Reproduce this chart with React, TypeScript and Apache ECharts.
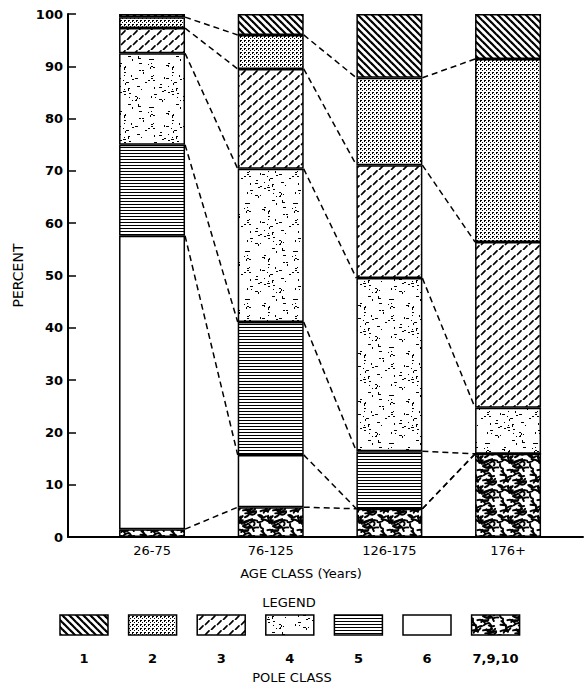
import React, { useEffect, useRef } from 'react';
import * as echarts from 'echarts';

// Age classes along the x axis
const categories = ['26-75', '76-125', '126-175', '176+'];
// Pole classes, in legend order (1 is drawn on top of each stack)
const poleClasses = ['1', '2', '3', '4', '5', '6', '7,9,10'];

// Percent of poles in each pole class, per age class
const class1 = [0.6, 4.0, 12.2, 8.6];
const class2 = [2.1, 6.5, 16.7, 35.0];
const class3 = [4.8, 19.1, 21.6, 31.7];
const class4 = [17.5, 29.3, 33.1, 8.8];
const class5 = [17.4, 25.4, 11.0, 0];
const class6 = [56.1, 10.0, 0, 0];
const class7910 = [1.5, 5.7, 5.4, 15.9];

const classValues = [class1, class2, class3, class4, class5, class6, class7910];

const FONT = 'DejaVu Sans';
const BAR_W = 66;

type Draw = (c: CanvasRenderingContext2D, w: number, h: number) => void;

// small integer hash, used to scatter texture specks
function hash(n: number) {
  let x = Math.imul(n ^ 0x5bd1e995, 0x27d4eb2d);
  x ^= x >>> 15;
  x = Math.imul(x, 0x165667b1);
  x ^= x >>> 13;
  return (x >>> 0) / 4294967296;
}

function makeTile(w: number, h: number, draw: Draw) {
  const cv = document.createElement('canvas');
  cv.width = w;
  cv.height = h;
  const c = cv.getContext('2d') as CanvasRenderingContext2D;
  c.fillStyle = '#fff';
  c.fillRect(0, 0, w, h);
  c.fillStyle = '#000';
  c.strokeStyle = '#000';
  draw(c, w, h);
  return { image: cv, repeat: 'repeat', imageWidth: w, imageHeight: h };
}

function buildPatterns() {
  // 1: dense back-slash hatching
  const p1 = makeTile(7, 7, (c, w, h) => {
    c.lineWidth = 2.2;
    for (const o of [-w, 0, w]) {
      c.beginPath();
      c.moveTo(o - 1, -1);
      c.lineTo(o + w + 1, h + 1);
      c.stroke();
    }
  });
  // 2: fine dotted grid
  const p2 = makeTile(4, 4, (c) => {
    c.fillRect(0, 0, 2, 1);
    c.fillRect(0, 0, 1, 2);
    c.fillRect(2, 2, 1, 1);
  });
  // 3: staggered short slashes
  const p3 = makeTile(12, 10, (c) => {
    c.lineWidth = 1.7;
    c.lineCap = 'round';
    c.beginPath();
    c.moveTo(1.5, 4.5);
    c.lineTo(5, 0.8);
    c.moveTo(7.5, 9.5);
    c.lineTo(11, 5.8);
    c.stroke();
  });
  // 4: sparse stipple
  const p4 = makeTile(48, 48, (c) => {
    for (let n = 0; n < 70; n++) {
      const x = Math.floor(hash(n * 3 + 1) * 48);
      const y = Math.floor(hash(n * 3 + 2) * 48);
      const r = hash(n * 3 + 3);
      const wdt = r < 0.15 ? 3 : r < 0.45 ? 2 : 1;
      const hgt = r > 0.8 ? 2 : 1;
      c.fillRect(x, y, wdt, hgt);
    }
  });
  // 5: horizontal ruling
  const p5 = makeTile(4, 3, (c) => {
    c.fillRect(0, 0, 4, 1);
  });
  // 6: plain
  const p6 = '#ffffff';
  // 7,9,10: dense wormy texture
  const p7 = makeTile(30, 30, (c) => {
    c.lineWidth = 1.9;
    c.lineCap = 'round';
    for (let n = 0; n < 44; n++) {
      const x = hash(n * 5 + 101) * 30;
      const y = hash(n * 5 + 102) * 30;
      const ang = -0.6 + hash(n * 5 + 103) * 0.9 + (n % 4 === 0 ? 1.3 : 0);
      const len = 4 + hash(n * 5 + 104) * 4;
      const bend = (hash(n * 5 + 105) - 0.5) * 6;
      const dx = Math.cos(ang) * len;
      const dy = Math.sin(ang) * len;
      for (const ox of [-30, 0, 30]) {
        for (const oy of [-30, 0, 30]) {
          c.beginPath();
          c.moveTo(x + ox, y + oy);
          c.quadraticCurveTo(
            x + ox + dx / 2 - (dy / len) * bend,
            y + oy + dy / 2 + (dx / len) * bend,
            x + ox + dx,
            y + oy + dy,
          );
          c.stroke();
        }
      }
    }
  });
  return [p1, p2, p3, p4, p5, p6, p7];
}

export default function App() {
  const ref = useRef<HTMLDivElement>(null);

  useEffect(() => {
    if (!ref.current) return;
    const chart = echarts.init(ref.current, undefined, { renderer: 'svg' });
    const patterns = buildPatterns();

    // stack order from the bottom up: 7,9,10 ... 1
    const stackOrder = [6, 5, 4, 3, 2, 1, 0];

    // cumulative tops of each stack level, per age class
    const cum: number[][] = [];
    let running = categories.map(() => 0);
    stackOrder.forEach((ci) => {
      running = running.map((v, i) => v + classValues[ci][i]);
      cum.push(running.slice());
    });

    const barSeries = stackOrder.map((ci) => ({
      type: 'bar',
      name: poleClasses[ci],
      stack: 'total',
      xAxisIndex: 1,
      yAxisIndex: 1,
      barWidth: BAR_W,
      data: classValues[ci],
      itemStyle: {
        color: patterns[ci],
        borderColor: '#000',
        borderWidth: 1.5,
      },
      emphasis: { disabled: true },
    }));

    const connectorData: number[][] = [];
    for (let i = 0; i < categories.length - 1; i++) {
      for (let k = 0; k < stackOrder.length - 1; k++) connectorData.push([i, k]);
    }

    const connectors = {
      type: 'custom',
      xAxisIndex: 1,
      yAxisIndex: 1,
      data: connectorData,
      renderItem: (_p: any, api: any) => {
        const i = api.value(0);
        const k = api.value(1);
        const a = api.coord([i, cum[k][i]]);
        const b = api.coord([i + 1, cum[k][i + 1]]);
        return {
          type: 'line',
          shape: { x1: a[0] + BAR_W / 2, y1: a[1], x2: b[0] - BAR_W / 2, y2: b[1] },
          style: { stroke: '#000', lineWidth: 1.5, lineDash: [6, 4] },
        };
      },
    };

    const legendItems: any[] = [];
    poleClasses.forEach((name, k) => {
      const x = 60 + k * 68.6;
      legendItems.push({
        type: 'rect',
        shape: { x, y: 615, width: 48, height: 20 },
        style: { fill: patterns[k], stroke: '#000', lineWidth: 1.5 },
      });
      legendItems.push({
        type: 'text',
        style: {
          text: name,
          x: x + 24,
          y: 658,
          textAlign: 'center',
          textVerticalAlign: 'middle',
          fontSize: 13,
          fontWeight: 'bold',
          fontFamily: FONT,
          fill: '#000',
        },
      });
    });

    const label = (text: string, x: number, y: number) => ({
      type: 'text',
      style: {
        text,
        x,
        y,
        textAlign: 'center',
        textVerticalAlign: 'middle',
        fontSize: 13,
        fontFamily: FONT,
        fill: '#000',
      },
    });

    chart.setOption({
      animation: false,
      backgroundColor: '#fff',
      textStyle: { fontFamily: FONT },
      grid: [
        { left: 68, top: 14, width: 515, height: 523 },
        { left: 92.7, top: 14, width: 474.7, height: 523 },
      ],
      xAxis: [
        {
          gridIndex: 0,
          type: 'value',
          min: 0,
          max: 1,
          axisLine: { show: true, lineStyle: { color: '#000', width: 2 } },
          axisTick: { show: false },
          axisLabel: { show: false },
          splitLine: { show: false },
        },
        {
          gridIndex: 1,
          type: 'category',
          data: categories,
          axisLine: { show: false },
          axisTick: { show: false },
          axisLabel: { color: '#000', fontSize: 13, fontFamily: FONT, margin: 7 },
        },
      ],
      yAxis: [
        {
          gridIndex: 0,
          type: 'value',
          min: 0,
          max: 100,
          interval: 10,
          name: 'PERCENT',
          nameLocation: 'middle',
          nameRotate: 90,
          nameGap: 38,
          nameTextStyle: { color: '#000', fontSize: 14, fontFamily: FONT },
          axisLine: { show: true, lineStyle: { color: '#000', width: 2 } },
          axisTick: { show: true, inside: true, length: 8, lineStyle: { color: '#000', width: 1.5 } },
          axisLabel: { color: '#000', fontSize: 13, fontWeight: 'bold', fontFamily: FONT, margin: 5 },
          splitLine: { show: false },
        },
        { gridIndex: 1, type: 'value', min: 0, max: 100, show: false },
      ],
      graphic: [
        label('AGE CLASS (Years)', 301, 573),
        label('LEGEND', 289, 602),
        label('POLE CLASS', 292, 677),
        ...legendItems,
      ],
      series: [connectors, ...barSeries],
    });

    return () => chart.dispose();
  }, []);

  return (
    <div
      ref={ref}
      style={{ position: 'fixed', left: 0, top: 0, width: 586, height: 683, background: '#fff' }}
    />
  );
}
